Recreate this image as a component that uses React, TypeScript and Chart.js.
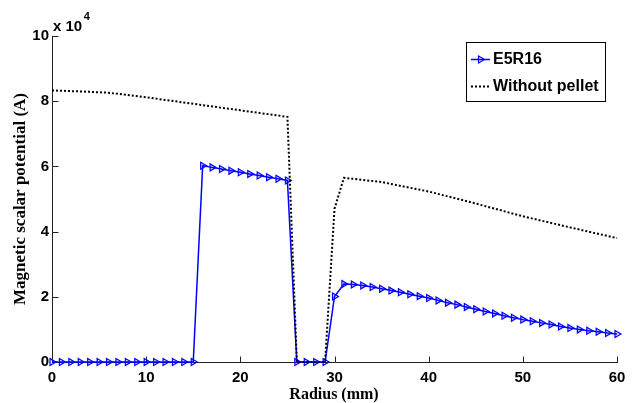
import React, { useEffect, useRef } from "react";
import { Chart, registerables } from "chart.js";

Chart.register(...registerables);

// Radius (mm) and magnetic scalar potential (x 10^4 A)
const radiusE5R16 = [
  0, 1, 2, 3, 4, 5, 6, 7, 8, 9, 10, 11, 12, 13, 14, 15, 16, 17, 18, 19, 20,
  21, 22, 23, 24, 25, 26, 27, 28, 29, 30, 31, 32, 33, 34, 35, 36, 37, 38, 39, 40,
  41, 42, 43, 44, 45, 46, 47, 48, 49, 50, 51, 52, 53, 54, 55, 56, 57, 58, 59, 60,
];
const valuesE5R16 = [
  0, 0, 0, 0, 0, 0, 0, 0, 0, 0, 0, 0, 0, 0, 0, 0,
  6.02, 5.97, 5.92, 5.87, 5.82, 5.77, 5.72, 5.67, 5.62, 5.57,
  0, 0, 0, 0,
  2.01,
  2.39, 2.38, 2.35, 2.3, 2.25, 2.19, 2.14, 2.08, 2.02, 1.96,
  1.89, 1.82, 1.76, 1.69, 1.62, 1.55, 1.49, 1.42, 1.36, 1.3,
  1.25, 1.2, 1.15, 1.09, 1.04, 1.0, 0.96, 0.93, 0.89, 0.86,
];
const radiusWithout = [0, 3, 6, 10, 15, 20, 25, 26, 29, 30, 31, 35, 40, 45, 50, 55, 60];
const valuesWithout = [8.33, 8.3, 8.26, 8.12, 7.92, 7.72, 7.52, 0, 0, 4.7, 5.65, 5.52, 5.23, 4.86, 4.47, 4.13, 3.8];

const seriesLabels = ["E5R16", "Without pellet"];
const xTicks = [0, 10, 20, 30, 40, 50, 60];
const yTicks = [0, 2, 4, 6, 8, 10];
const xTitle = "Radius (mm)";
const yTitle = "Magnetic scalar potential (A)";
const exponentBase = "x 10";
const exponentPower = "4";

const BLUE = "#0000ff";
const SANS = "'Liberation Sans', Arial, sans-serif";
const SERIF = "'Liberation Serif', 'Times New Roman', serif";

function drawTri(ctx: CanvasRenderingContext2D, x: number, y: number, r: number) {
  ctx.beginPath();
  ctx.moveTo(x + r, y);
  ctx.lineTo(x - r / 2, y - r * 0.866);
  ctx.lineTo(x - r / 2, y + r * 0.866);
  ctx.closePath();
  ctx.stroke();
}

const decorPlugin = {
  id: "decor",
  beforeDatasetsDraw(chart: any) {
    const ctx = chart.ctx as CanvasRenderingContext2D;
    const { left, right, top, bottom } = chart.chartArea;
    const xs = chart.scales.x;
    const ys = chart.scales.y;
    ctx.save();
    ctx.strokeStyle = "#222";
    ctx.lineWidth = 1;
    const L = Math.round(left) + 0.5;
    const B = Math.round(bottom) + 0.5;
    ctx.beginPath();
    ctx.moveTo(L, Math.round(top));
    ctx.lineTo(L, B);
    ctx.lineTo(Math.round(right) + 1, B);
    ctx.stroke();
    ctx.beginPath();
    for (const v of xTicks) {
      const px = Math.round(xs.getPixelForValue(v)) + 0.5;
      ctx.moveTo(px, B);
      ctx.lineTo(px, B - 6);
    }
    for (const v of yTicks) {
      const py = Math.round(ys.getPixelForValue(v)) + 0.5;
      ctx.moveTo(L, py);
      ctx.lineTo(L + 6, py);
    }
    ctx.stroke();
    ctx.restore();
  },
  afterDraw(chart: any) {
    const ctx = chart.ctx as CanvasRenderingContext2D;
    const { left, right, top, bottom } = chart.chartArea;
    ctx.save();
    ctx.fillStyle = "#000";
    // axis titles
    ctx.textAlign = "center";
    ctx.textBaseline = "middle";
    ctx.font = `bold 16px ${SERIF}`;
    ctx.fillText(xTitle, 334, 395);
    ctx.save();
    ctx.translate(21, (top + bottom) / 2);
    ctx.rotate(-Math.PI / 2);
    ctx.font = `bold 17px ${SERIF}`;
    ctx.fillText(yTitle, 0, 0);
    ctx.restore();
    // exponent
    ctx.textAlign = "left";
    ctx.font = `bold 15px ${SANS}`;
    ctx.fillText(exponentBase, 53, 27);
    const w = ctx.measureText(exponentBase).width;
    ctx.font = `bold 11px ${SANS}`;
    ctx.fillText(exponentPower, 53 + w + 1.5, 17);
    // legend
    const bx = 466.5, by = 42.5, bw = 139, bh = 59;
    ctx.fillStyle = "#fff";
    ctx.fillRect(bx, by, bw, bh);
    ctx.strokeStyle = "#000";
    ctx.lineWidth = 1;
    ctx.strokeRect(bx, by, bw, bh);
    const y1 = 59.5, y2 = 86.5;
    ctx.strokeStyle = BLUE;
    ctx.lineWidth = 1.5;
    ctx.beginPath();
    ctx.moveTo(471, y1);
    ctx.lineTo(490, y1);
    ctx.stroke();
    ctx.lineWidth = 1.2;
    drawTri(ctx, 480.5, y1, 4);
    ctx.strokeStyle = "#000";
    ctx.lineWidth = 2;
    ctx.setLineDash([2, 2]);
    ctx.beginPath();
    ctx.moveTo(471, y2);
    ctx.lineTo(489, y2);
    ctx.stroke();
    ctx.setLineDash([]);
    ctx.fillStyle = "#000";
    ctx.font = `bold 16px ${SANS}`;
    ctx.textAlign = "left";
    ctx.fillText(seriesLabels[0], 493, y1);
    ctx.fillText(seriesLabels[1], 493, y2);
    ctx.restore();
  },
};

export default function App() {
  const ref = useRef<HTMLCanvasElement>(null);
  useEffect(() => {
    if (!ref.current) return;
    const tickFont = { family: SANS, weight: "bold" as const, size: 15 };
    const chart = new Chart(ref.current, {
      type: "line",
      data: {
        datasets: [
          {
            label: seriesLabels[0],
            data: radiusE5R16.map((r, i) => ({ x: r, y: valuesE5R16[i] })),
            borderColor: BLUE,
            borderWidth: 1.5,
            pointStyle: "triangle",
            rotation: 90,
            pointRadius: 4,
            pointBorderWidth: 1.2,
            pointBorderColor: BLUE,
            pointBackgroundColor: "rgba(0,0,255,0.15)",
            tension: 0,
            clip: false as any,
            order: 2,
          },
          {
            label: seriesLabels[1],
            data: radiusWithout.map((r, i) => ({ x: r, y: valuesWithout[i] })),
            borderColor: "#000",
            borderWidth: 2,
            borderDash: [2, 2],
            pointRadius: 0,
            tension: 0,
            clip: false as any,
            order: 1,
          },
        ],
      },
      options: {
        animation: false,
        responsive: true,
        maintainAspectRatio: false,
        layout: { padding: { top: 36, right: 18, left: 0, bottom: 0 } },
        plugins: { legend: { display: false }, tooltip: { enabled: false } },
        scales: {
          x: {
            type: "linear",
            min: 0,
            max: 60,
            afterFit: (s: any) => {
              s.height = 41;
            },
            grid: { display: false, drawTicks: false },
            border: { display: false },
            afterBuildTicks: (s: any) => {
              s.ticks = xTicks.map((v) => ({ value: v }));
            },
            ticks: { color: "#000", font: tickFont, padding: 7, autoSkip: false, maxRotation: 0 },
          },
          y: {
            min: 0,
            max: 10,
            afterFit: (s: any) => {
              s.width = 52;
            },
            grid: { display: false, drawTicks: false },
            border: { display: false },
            afterBuildTicks: (s: any) => {
              s.ticks = yTicks.map((v) => ({ value: v }));
            },
            ticks: { color: "#000", font: tickFont, padding: 3, autoSkip: false },
          },
        },
      },
      plugins: [decorPlugin],
    });
    return () => chart.destroy();
  }, []);
  return (
    <div style={{ position: "fixed", left: 0, top: 0, width: 635, height: 403, background: "#fff" }}>
      <canvas ref={ref} />
    </div>
  );
}
